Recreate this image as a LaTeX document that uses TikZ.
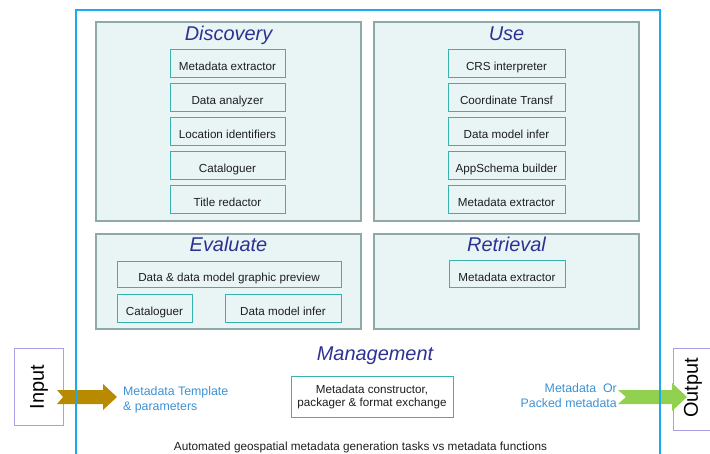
\documentclass[tikz,border=0pt]{standalone}
\usepackage{fontspec}
\setmainfont{Liberation Sans}
\definecolor{framebl}{RGB}{28,170,236}
\definecolor{panelfill}{RGB}{233,245,245}
\definecolor{panelline}{RGB}{143,168,168}
\definecolor{boxline}{RGB}{56,178,172}
\definecolor{titleblue}{RGB}{46,49,146}
\definecolor{txt}{RGB}{30,30,30}
\definecolor{labelblue}{RGB}{61,145,210}
\definecolor{ioline}{RGB}{170,160,230}
\definecolor{goldarrow}{RGB}{184,138,0}
\definecolor{greenarrow}{RGB}{146,208,80}
\begin{document}
\begin{tikzpicture}[x=1bp,y=-1bp,
  panel/.style={draw=panelline,line width=1.5bp,fill=panelfill,inner sep=0pt},
  paneltitle/.style={text=titleblue,font=\fontsize{20}{22}\selectfont\itshape,
    inner sep=0pt,text height=16bp,text depth=3bp},
  task/.style={draw=boxline,line width=1bp,fill=panelfill,text=txt,
    font=\fontsize{11.7}{14}\selectfont,inner sep=0pt,minimum height=28bp,
    text height=13.5bp,text depth=0bp},
  iobox/.style={draw=ioline,line width=1bp,fill=white,inner sep=0pt},
  iotext/.style={font=\fontsize{20}{22}\selectfont,text=black,rotate=90,inner sep=0pt},
  flowlabel/.style={text=labelblue,font=\fontsize{12.4}{15}\selectfont,inner sep=0pt}
]
\useasboundingbox (0,0) rectangle (710,454);
\clip (0,0) rectangle (710,454);

% function panels
\node[panel,minimum width=265bp,minimum height=199bp] (disc) at (228.5,121.5) {};
\node[panel,minimum width=265bp,minimum height=199bp] (use) at (506.5,121.5) {};
\node[panel,minimum width=265bp,minimum height=95bp] (eval) at (228.5,281.5) {};
\node[panel,minimum width=265bp,minimum height=95bp] (retr) at (506.5,281.5) {};

\node[paneltitle] (disct) at (228.5,34) {Discovery};
\node[paneltitle] (uset) at (506.5,34) {Use};
\node[paneltitle] (evalt) at (228.5,245) {Evaluate};
\node[paneltitle] (retrt) at (506.5,245) {Retrieval};
\node[paneltitle] (mgmtt) at (375,354) {Management};

% Discovery tasks
\begin{scope}[every node/.style={task,minimum width=115bp}]
\node (d1) at (227.5,64) {Metadata extractor};
\node (d2) at (227.5,98) {Data analyzer};
\node (d3) at (227.5,132) {Location identifiers};
\node (d4) at (227.5,166) {Cataloguer};
\node (d5) at (227.5,200) {Title redactor};
\end{scope}

% Use tasks
\begin{scope}[every node/.style={task,minimum width=117bp}]
\node (u1) at (506.5,64) {CRS interpreter};
\node (u2) at (506.5,98) {Coordinate Transf};
\node (u3) at (506.5,132) {Data model infer};
\node (u4) at (506.5,166) {AppSchema builder};
\node (u5) at (506.5,200) {Metadata extractor};
\end{scope}

% Evaluate tasks
\node[task,minimum width=224bp,minimum height=26bp] (e1) at (229,275) {Data \& data model graphic preview};
\node[task,minimum width=75bp,minimum height=27bp] (e2) at (154.5,308.5) {Cataloguer};
\node[task,minimum width=116bp,minimum height=27bp] (e3) at (283,308.5) {Data model infer};

% Retrieval task
\node[task,minimum width=116bp,minimum height=27bp] (r1) at (507,274.5) {Metadata extractor};

% Management task
\node[draw=boxline,line width=1bp,fill=white,text=txt,inner sep=0pt,
  minimum width=162bp,minimum height=41bp,align=center,
  font=\fontsize{11.7}{14}\selectfont] (m1) at (372,397)
  {Metadata constructor,\\packager \& format exchange};

% input and output
\node[iobox,minimum width=48bp,minimum height=76bp] (inbox) at (39,387) {};
\node[iotext] (intext) at (inbox.center) {Input};
\node[iobox,minimum width=40bp,minimum height=81bp] (outbox) at (693,389.5) {};
\node[iotext] (outtext) at (693,388) {Output};

\fill[goldarrow] (57,390) -- (103,390) -- (103,384) -- (117,397) -- (103,410)
  -- (103,404) -- (57,404) -- (63,397) -- cycle;
\fill[greenarrow] (618,390) -- (672,390) -- (672,383) -- (687,397) -- (672,411)
  -- (672,404) -- (618,404) -- (626,397) -- cycle;

\node[flowlabel,anchor=west,align=left] (inlabel) at (123,399.5)
  {Metadata Template\\\& parameters};
\node[flowlabel,anchor=east,align=right] (outlabel) at (617,396)
  {Metadata~~Or\\Packed metadata};

% outer frame
\draw[framebl,line width=1.8bp] (76,10) rectangle (660,470);

\node[text=txt,font=\fontsize{11.8}{13}\selectfont,inner sep=0pt] (caption) at (360.5,447)
  {Automated geospatial metadata generation tasks vs metadata functions};
\end{tikzpicture}
\end{document}
